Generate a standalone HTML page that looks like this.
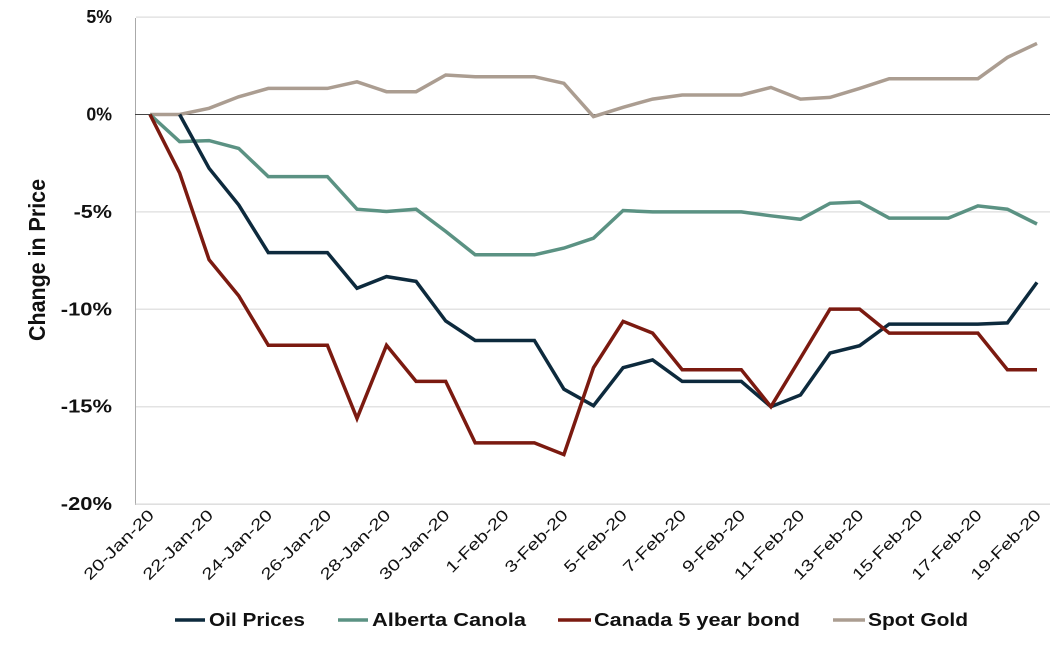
<!DOCTYPE html>
<html><head><meta charset="utf-8"><style>
body{margin:0;background:#fff;width:1061px;height:648px;overflow:hidden;font-family:"Liberation Sans",sans-serif}
</style></head><body>
<svg id="chart" width="1061" height="648" xmlns="http://www.w3.org/2000/svg">
<g id="grid"></g><g id="axes"></g><g id="series"></g><g id="labels"></g>
<text transform="translate(45,260) rotate(-90)" text-anchor="middle" font-family="Liberation Sans Narrow, Liberation Sans, sans-serif" font-weight="bold" font-size="23" fill="#111" textLength="162" lengthAdjust="spacingAndGlyphs">Change in Price</text>
<g font-weight="bold" font-size="18" fill="#111">
<g><line x1="175" y1="620" x2="205" y2="620" stroke="#0d2a3d" stroke-width="3.5"/><text x="209" y="626" textLength="96" lengthAdjust="spacingAndGlyphs">Oil Prices</text></g>
<g><line x1="338" y1="620" x2="368" y2="620" stroke="#5b9283" stroke-width="3.5"/><text x="372" y="626" textLength="154" lengthAdjust="spacingAndGlyphs">Alberta Canola</text></g>
<g><line x1="558" y1="620" x2="591" y2="620" stroke="#7b1a10" stroke-width="3.5"/><text x="594" y="626" textLength="206" lengthAdjust="spacingAndGlyphs">Canada 5 year bond</text></g>
<g><line x1="833" y1="620" x2="865" y2="620" stroke="#ab9d91" stroke-width="3.5"/><text x="868" y="626" textLength="100" lengthAdjust="spacingAndGlyphs">Spot Gold</text></g>
</g>
</svg>
<script>
const days = ["20-Jan-20","21-Jan-20","22-Jan-20","23-Jan-20","24-Jan-20","25-Jan-20","26-Jan-20","27-Jan-20","28-Jan-20","29-Jan-20","30-Jan-20","31-Jan-20","1-Feb-20","2-Feb-20","3-Feb-20","4-Feb-20","5-Feb-20","6-Feb-20","7-Feb-20","8-Feb-20","9-Feb-20","10-Feb-20","11-Feb-20","12-Feb-20","13-Feb-20","14-Feb-20","15-Feb-20","16-Feb-20","17-Feb-20","18-Feb-20","19-Feb-20"];
const oil = [null,0,-2.76,-4.64,-7.09,-7.09,-7.09,-8.92,-8.32,-8.57,-10.6,-11.6,-11.6,-11.6,-14.1,-14.95,-13.0,-12.6,-13.7,-13.7,-13.7,-15.0,-14.4,-12.25,-11.87,-10.76,-10.76,-10.76,-10.76,-10.7,-8.62];
const canola = [0,-1.39,-1.34,-1.74,-3.19,-3.19,-3.19,-4.86,-4.98,-4.86,-6.0,-7.2,-7.2,-7.2,-6.86,-6.35,-4.93,-5.0,-5.0,-5.0,-5.0,-5.2,-5.38,-4.56,-4.49,-5.32,-5.32,-5.32,-4.69,-4.86,-5.62];
const bond = [0,-3.0,-7.46,-9.3,-11.85,-11.85,-11.85,-15.6,-11.85,-13.7,-13.7,-16.86,-16.86,-16.86,-17.46,-13.0,-10.62,-11.22,-13.1,-13.1,-13.1,-15.0,-12.5,-9.99,-9.99,-11.22,-11.22,-11.22,-11.22,-13.1,-13.1];
const gold = [0,0,0.32,0.91,1.34,1.34,1.34,1.68,1.17,1.17,2.03,1.94,1.94,1.94,1.6,-0.11,0.37,0.79,1.0,1.0,1.0,1.39,0.79,0.88,1.34,1.84,1.84,1.84,1.84,2.93,3.65];
const yTicks = [5,0,-5,-10,-15,-20];
const yTickLabels = ["5%","0%","-5%","-10%","-15%","-20%"];
</script>
<script>
const NS = "http://www.w3.org/2000/svg";
const X0 = 150, X1 = 1037, Y0 = 114.5, PER = 19.48;
const xs = i => X0 + (X1 - X0) * i / (days.length - 1);
const ys = v => Y0 - v * PER;
function mk(tag, attrs, parent){const e=document.createElementNS(NS,tag);for(const k in attrs)e.setAttribute(k,attrs[k]);document.getElementById(parent).appendChild(e);return e;}
yTicks.forEach((t,i)=>{
  if(t!==0 && t!==-20){const g=mk("line",{x1:136,x2:1050,y1:ys(t),y2:ys(t),stroke:"#e3e3e3","stroke-width":1.5},"grid");
  
  }
  const lbl=yTickLabels[i];
  const l=mk("text",{x:112,y:ys(t)+6,"text-anchor":"end","font-weight":"bold","font-size":18,fill:"#111",textLength:lbl.length*12.8,lengthAdjust:"spacingAndGlyphs"},"labels");
  l.textContent=lbl;
  
  
});
let a=mk("line",{x1:135.5,x2:135.5,y1:18,y2:505,stroke:"#aaa","stroke-width":1},"axes");


a=mk("line",{x1:135,x2:1050,y1:ys(-20),y2:ys(-20),stroke:"#ccc","stroke-width":1},"axes");


a=mk("line",{x1:135,x2:1050,y1:Y0,y2:Y0,stroke:"#444","stroke-width":1},"axes");


days.forEach((d,i)=>{
  if(i%2) return;
  const x=xs(i)+5, y=ys(-20)+12;
  const t=mk("text",{x:x,y:y,"text-anchor":"end","font-size":16,fill:"#111",textLength:d.length*10.2,lengthAdjust:"spacingAndGlyphs",transform:`rotate(-45 ${x} ${y})`},"labels");
  t.textContent=d;
  
  
});
function series(arr,color,name){
  let d="";let pen=false;
  arr.forEach((v,i)=>{if(v===null||v===undefined){pen=false;return;}d+=(pen?"L":"M")+xs(i).toFixed(1)+" "+ys(v).toFixed(1);pen=true;});
  const p=mk("path",{d:d,fill:"none",stroke:color,"stroke-width":3.5,"stroke-linejoin":"miter"},"series");
  
  
}
series(gold,"#ab9d91","spot-gold-line");
series(canola,"#5b9283","alberta-canola-line");
series(oil,"#0d2a3d","oil-prices-line");
series(bond,"#7b1a10","canada-5yr-bond-line");
</script>
</body></html>
